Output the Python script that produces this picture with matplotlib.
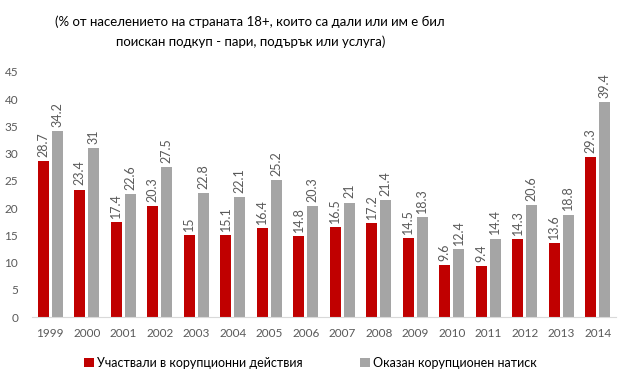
import numpy as np
import matplotlib
matplotlib.use("Agg")
import matplotlib.pyplot as plt

plt.rcParams['font.family'] = ['Lato', 'DejaVu Sans']

years = ['1999', '2000', '2001', '2002', '2003', '2004', '2005', '2006',
         '2007', '2008', '2009', '2010', '2011', '2012', '2013', '2014']
participated = [28.7, 23.4, 17.4, 20.3, 15, 15.1, 16.4, 14.8,
                16.5, 17.2, 14.5, 9.6, 9.4, 14.3, 13.6, 29.3]
pressure = [34.2, 31, 22.6, 27.5, 22.8, 22.1, 25.2, 20.3,
            21, 21.4, 18.3, 12.4, 14.4, 20.6, 18.8, 39.4]

red = '#C00000'
gray = '#A5A5A5'
txt = '#595959'

fig = plt.figure(figsize=(6.18, 3.82), dpi=100)
ax = fig.add_axes([32 / 618, 1 - 317 / 382, 584 / 618, 245 / 382])

x = np.arange(len(years))
w = 0.3
off = 0.19
b1 = ax.bar(x - off, participated, w, color=red, label='Участвали в корупционни действия')
b2 = ax.bar(x + off, pressure, w, color=gray, label='Оказан корупционен натиск')

# value labels above each bar, rotated
for bars, vals in ((b1, participated), (b2, pressure)):
    for rect, v in zip(bars, vals):
        ax.annotate(f'{v:g}', (rect.get_x() + rect.get_width() / 2, v),
                    xytext=(0, 3), textcoords='offset points',
                    rotation=90, ha='center', va='bottom',
                    fontsize=9, color=txt)

ax.set_xlim(-0.5, len(years) - 0.5)
ax.set_ylim(0, 45)
ax.set_yticks(range(0, 50, 5))
ax.set_xticks(x)
ax.set_xticklabels(years)
ax.tick_params(axis='both', length=0, labelsize=8.5, labelcolor=txt)
ax.tick_params(axis='x', pad=8)
ax.tick_params(axis='y', pad=10)

for s in ['top', 'right', 'left']:
    ax.spines[s].set_visible(False)
ax.spines['bottom'].set_color('#D9D9D9')

fig.text(0.405, 0.918, '(% от населението на страната 18+, които са дали или им е бил\nпоискан подкуп - пари, подърък или услуга)',
         ha='center', va='center', fontsize=9.5, linespacing=1.7)

fig.legend(loc='center left', bbox_to_anchor=(84 / 618, 0.05), ncol=2, frameon=False,
           fontsize=9, handlelength=0.8, handleheight=0.8, handletextpad=0.25,
           columnspacing=4.6, borderpad=0, borderaxespad=0)

fig.savefig('out.png', dpi=100)
